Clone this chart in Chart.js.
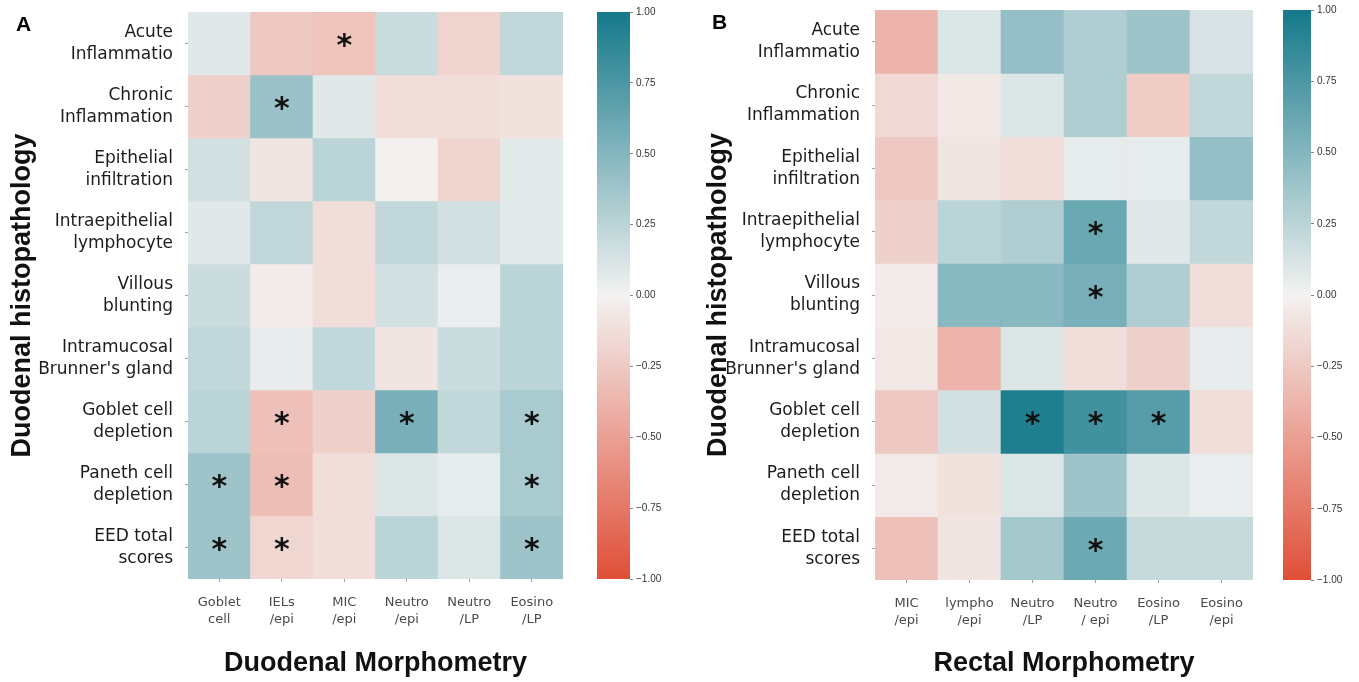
<!DOCTYPE html>
<html>
<head>
<meta charset="utf-8">
<script src="https://cdn.jsdelivr.net/npm/chart.js@4.4.0/dist/chart.umd.min.js"></script>
<style>
    html, body { margin: 0; padding: 0; background: #fff; }
    #wrap { position: relative; width: 1359px; height: 682px; overflow: hidden; }
    canvas { position: absolute; top: 0; }
    .tag { position: absolute; font: bold 21px "Liberation Sans", Arial, sans-serif; color: #000; }
</style>
</head>
<body>
<div id="wrap">
    <canvas id="heatA" width="580" height="682" style="left:0px"></canvas>
    <canvas id="barA" width="110" height="682" style="left:580px"></canvas>
    <canvas id="heatB" width="580" height="682" style="left:690px"></canvas>
    <canvas id="barB" width="89" height="682" style="left:1270px"></canvas>
    <div class="tag" style="left:16px;top:12px">A</div>
    <div class="tag" style="left:712px;top:10px">B</div>
</div>
<script>
    // row labels (shared by both panels)
    var rowLabels = [
        ['Acute', 'Inflammatio'],
        ['Chronic', 'Inflammation'],
        ['Epithelial', 'infiltration'],
        ['Intraepithelial', 'lymphocyte'],
        ['Villous', 'blunting'],
        ['Intramucosal', "Brunner's gland"],
        ['Goblet cell', 'depletion'],
        ['Paneth cell', 'depletion'],
        ['EED total', 'scores']
    ];

    var duodenalCols = [['Goblet', 'cell'], ['IELs', '/epi'], ['MIC', '/epi'], ['Neutro', '/epi'], ['Neutro', '/LP'], ['Eosino', '/LP']];
    var rectalCols = [['MIC', '/epi'], ['lympho', '/epi'], ['Neutro', '/LP'], ['Neutro', '/ epi'], ['Eosino', '/LP'], ['Eosino', '/epi']];

    // correlation values, one array per row
    var duodenalValues = [
        [0.08, -0.25, -0.28, 0.18, -0.18, 0.22],
        [-0.20, 0.40, 0.08, -0.12, -0.12, -0.10],
        [0.15, -0.08, 0.25, -0.02, -0.18, 0.07],
        [0.08, 0.22, -0.12, 0.22, 0.15, 0.07],
        [0.18, -0.04, -0.12, 0.15, 0.04, 0.25],
        [0.22, 0.05, 0.22, -0.08, 0.18, 0.25],
        [0.25, -0.30, -0.20, 0.55, 0.22, 0.33],
        [0.38, -0.32, -0.12, 0.10, 0.06, 0.33],
        [0.38, -0.17, -0.13, 0.25, 0.10, 0.38]
    ];
    var rectalValues = [
        [-0.38, 0.10, 0.42, 0.30, 0.38, 0.12],
        [-0.15, -0.06, 0.10, 0.30, -0.22, 0.22],
        [-0.25, -0.08, -0.12, 0.06, 0.06, 0.42],
        [-0.20, 0.25, 0.30, 0.62, 0.08, 0.22],
        [-0.04, 0.48, 0.48, 0.55, 0.30, -0.12],
        [-0.07, -0.38, 0.10, -0.12, -0.20, 0.05],
        [-0.25, 0.15, 0.95, 0.80, 0.70, -0.12],
        [-0.05, -0.10, 0.10, 0.38, 0.10, 0.04],
        [-0.30, -0.08, 0.35, 0.60, 0.20, 0.20]
    ];

    // significant cells [row, col]
    var duodenalSig = [[0, 2], [1, 1], [6, 1], [6, 3], [6, 5], [7, 0], [7, 1], [7, 5], [8, 0], [8, 1], [8, 5]];
    var rectalSig = [[3, 3], [4, 3], [6, 2], [6, 3], [6, 4], [8, 3]];

    var colorTicks = [-1, -0.75, -0.5, -0.25, 0, 0.25, 0.5, 0.75, 1];

    function corrColor(v) {
        var neg = [224, 78, 55], mid = [243, 242, 241], pos = [20, 121, 138];
        var end = v < 0 ? neg : pos;
        var t = Math.min(Math.abs(v), 1);
        var c = mid.map(function (m, k) { return Math.round(m + (end[k] - m) * t); });
        return 'rgb(' + c.join(',') + ')';
    }

    var starPlugin = {
        id: 'stars',
        afterDatasetsDraw: function (chart, args, opts) {
            var ctx = chart.ctx, xs = chart.scales.x, ys = chart.scales.y;
            ctx.save();
            ctx.fillStyle = '#111';
            ctx.font = 'bold 30px "DejaVu Sans", sans-serif';
            ctx.textAlign = 'center';
            ctx.textBaseline = 'middle';
            opts.cells.forEach(function (c) {
                ctx.fillText('*', xs.getPixelForValue(c[1]), ys.getPixelForValue(c[0] + 0.5) + 4);
            });
            ctx.restore();
        }
    };

    var gradientPlugin = {
        id: 'gradientBar',
        beforeDatasetsDraw: function (chart) {
            var a = chart.chartArea, ys = chart.scales.y, ctx = chart.ctx;
            var g = ctx.createLinearGradient(0, ys.getPixelForValue(-1), 0, ys.getPixelForValue(1));
            colorTicks.forEach(function (v) { g.addColorStop((v + 1) / 2, corrColor(v)); });
            ctx.save();
            ctx.fillStyle = g;
            ctx.fillRect(a.left, a.top, a.right - a.left, a.bottom - a.top);
            ctx.restore();
        }
    };

    function heatmap(id, cols, values, sig, xTitle, yAxisW, top, xAxisH, yTitlePad) {
        var datasets = values.map(function (row, r) {
            return {
                data: row.map(function () { return [r, r + 1]; }),
                backgroundColor: row.map(corrColor),
                borderWidth: 0,
                grouped: false,
                barPercentage: 1,
                categoryPercentage: 1
            };
        });

        new Chart(document.getElementById(id), {
            type: 'bar',
            data: { labels: cols, datasets: datasets },
            plugins: [starPlugin],
            options: {
                responsive: false,
                animation: false,
                layout: { padding: { top: top, right: 17, left: 0, bottom: 0 } },
                plugins: {
                    legend: { display: false },
                    tooltip: { enabled: false },
                    stars: { cells: sig }
                },
                scales: {
                    x: {
                        grid: { display: true, offset: false, drawOnChartArea: false, tickLength: 3, color: '#a0a0a0' },
                        border: { display: false },
                        ticks: {
                            autoSkip: false, maxRotation: 0, padding: 12, color: '#4a4a4a',
                            font: { family: '"DejaVu Sans", sans-serif', size: 13, lineHeight: 1.3 }
                        },
                        title: {
                            display: true, text: xTitle, color: '#111',
                            font: { family: '"Liberation Sans", Arial, sans-serif', size: 27, weight: 'bold' },
                            padding: { top: 0, bottom: 2 }
                        },
                        afterFit: function (s) {
                            s.height = xAxisH;
                            s.paddingLeft = 0;
                            s.paddingRight = 0;
                        }
                    },
                    y: {
                        type: 'linear', min: 0, max: 9, reverse: true,
                        afterBuildTicks: function (s) {
                            s.ticks = rowLabels.map(function (l, i) { return { value: i + 0.5 }; });
                        },
                        grid: { display: true, drawOnChartArea: false, tickLength: 3, color: '#a0a0a0' },
                        border: { display: false },
                        ticks: {
                            autoSkip: false, padding: 12, color: '#1c1c1c',
                            font: { family: '"DejaVu Sans", sans-serif', size: 17, lineHeight: 1.3 },
                            callback: function (v, i) { return rowLabels[i]; }
                        },
                        title: {
                            display: true, text: 'Duodenal histopathology', color: '#111',
                            font: { family: '"Liberation Sans", Arial, sans-serif', size: 27, weight: 'bold' },
                            padding: { top: yTitlePad, bottom: 0 }
                        },
                        afterFit: function (s) {
                            s.width = yAxisW;
                            s.paddingTop = 0;
                            s.paddingBottom = 0;
                        }
                    }
                }
            }
        });
    }

    function colorbar(id, padLeft, axisW, top, bottom) {
        new Chart(document.getElementById(id), {
            type: 'bar',
            data: { labels: [''], datasets: [] },
            plugins: [gradientPlugin],
            options: {
                responsive: false,
                animation: false,
                layout: { padding: { top: top, left: padLeft, bottom: bottom, right: 0 } },
                plugins: { legend: { display: false }, tooltip: { enabled: false } },
                scales: {
                    x: { display: false },
                    y: {
                        position: 'right', min: -1, max: 1,
                        afterBuildTicks: function (s) {
                            s.ticks = colorTicks.map(function (v) { return { value: v }; });
                        },
                        grid: { display: true, drawOnChartArea: false, tickLength: 3, color: '#888' },
                        border: { display: false },
                        ticks: {
                            padding: 3, color: '#333',
                            font: { family: '"Liberation Sans", Arial, sans-serif', size: 10 },
                            callback: function (v) { return (v < 0 ? '\u2212' : '') + Math.abs(v).toFixed(2); }
                        },
                        afterFit: function (s) {
                            s.width = axisW;
                            s.paddingTop = 0;
                            s.paddingBottom = 0;
                        }
                    }
                }
            }
        });
    }

    heatmap('heatA', duodenalCols, duodenalValues, duodenalSig, 'Duodenal Morphometry', 188, 12, 103, 6);
    heatmap('heatB', rectalCols, rectalValues, rectalSig, 'Rectal Morphometry', 185, 10, 102, 12);
    colorbar('barA', 17, 60, 12, 103);
    colorbar('barB', 13, 48, 10, 102);
</script>
</body>
</html>
